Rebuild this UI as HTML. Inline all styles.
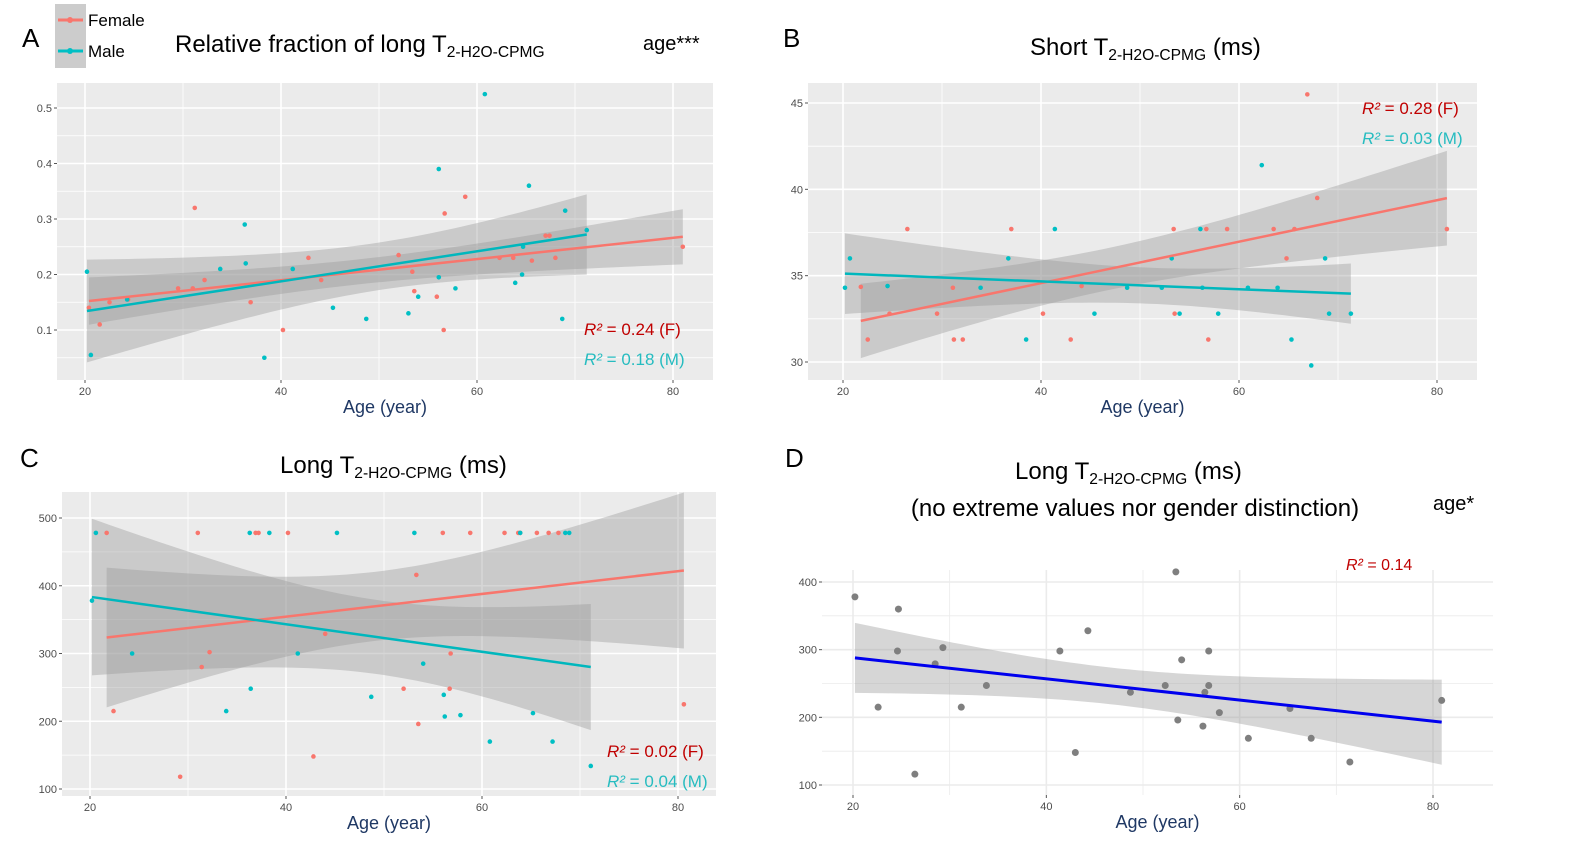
<!DOCTYPE html>
<html><head><meta charset="utf-8"><style>
html,body{margin:0;padding:0;background:#fff;}
svg{display:block;font-family:"Liberation Sans",sans-serif;}
</style></head><body>
<svg id="c" width="1579" height="846" viewBox="0 0 1579 846" xmlns="http://www.w3.org/2000/svg"></svg>
<script>
// ---- Data (age, value) ----
const aFemaleAge=[20.4,21.5,22.5,24.4,31.2,29.5,31,32.2,36.9,40.2,42.8,44.1,52,53.4,53.6,55.9,56.7,56.6,58.8,62.3,63.7,65.6,67,67.4,68,81];
const aFemaleVal=[0.14,0.11,0.15,0.155,0.32,0.175,0.175,0.19,0.15,0.10,0.23,0.19,0.235,0.205,0.17,0.16,0.31,0.10,0.34,0.23,0.23,0.225,0.27,0.27,0.23,0.25];
const aMaleAge=[20.2,20.6,24.3,33.8,36.3,36.4,38.3,41.2,45.3,48.7,53,54,56.1,56.1,57.8,60.8,63.9,65.3,64.6,64.7,69,68.7,71.2];
const aMaleVal=[0.205,0.055,0.155,0.21,0.29,0.22,0.05,0.21,0.14,0.12,0.13,0.16,0.39,0.195,0.175,0.525,0.185,0.36,0.20,0.25,0.315,0.12,0.28];
const bFemaleAge=[21.8,22.5,24.7,26.5,29.5,31.2,32.1,31.1,37,40.2,43,44.1,53.4,53.5,56.7,56.9,58.8,63.5,64.8,65.6,66.9,67.9,81];
const bFemaleVal=[34.35,31.3,32.8,37.7,32.8,31.3,31.3,34.3,37.7,32.8,31.3,34.4,37.7,32.8,37.7,31.3,37.7,37.7,36,37.7,45.5,39.5,37.7];
const bMaleAge=[20.2,20.7,24.5,33.9,36.7,38.5,41.4,45.4,48.7,52.2,53.2,54,56.1,56.3,57.9,60.9,62.3,63.9,65.3,67.3,68.7,69.1,71.3];
const bMaleVal=[34.3,36,34.4,34.3,36,31.3,37.7,32.8,34.3,34.3,36,32.8,37.7,34.3,32.8,34.3,41.4,34.3,31.3,29.8,36,32.8,32.8];
const cFemaleAge=[21.7,22.4,29.2,31,31.4,32.2,36.9,37.2,40.2,42.8,44,52,53.3,53.5,56,56.7,56.8,58.8,62.3,63.7,63.9,65.6,66.8,67.8,80.6];
const cFemaleVal=[478,215,118,478,280,302,478,478,478,148,329,248,416,196,478,248,300,478,478,478,478,478,478,478,225];
const cMaleAge=[20.2,20.6,24.3,33.9,36.3,36.4,38.3,41.2,45.2,48.7,53.1,54,56.1,56.2,57.8,60.8,63.9,65.2,67.2,68.5,68.9,71.1];
const cMaleVal=[378,478,300,215,478,248,478,300,478,236,478,285,239,207,209,170,478,212,170,478,478,134];
const dAge=[20.2,22.6,24.7,24.6,26.4,28.5,29.3,31.2,33.8,41.4,43,44.3,48.7,52.3,53.4,53.6,54,56.2,56.4,56.8,56.8,57.9,60.9,65.2,67.4,71.4,80.9];
const dVal=[378,215,360,298,116,279,303,215,247,298,148,328,237,247,415,196,285,187,237,298,247,207,169,213,169,134,225];
const xTicks=[20,40,60,80];
const aYTicks=[0.1,0.2,0.3,0.4,0.5];
const bYTicks=[30,35,40,45];
const cYTicks=[100,200,300,400,500];
const dYTicks=[100,200,300,400];

const svg=document.getElementById('c');
const NS='http://www.w3.org/2000/svg';
function mk(tag,attrs,parent,text){const e=document.createElementNS(NS,tag);for(const k in attrs)e.setAttribute(k,attrs[k]);if(text!==undefined)e.textContent=text;(parent||svg).appendChild(e);return e;}

function fit(xs,ys){const n=xs.length;const mx=xs.reduce((a,b)=>a+b)/n,my=ys.reduce((a,b)=>a+b)/n;let sxx=0,sxy=0;for(let i=0;i<n;i++){sxx+=(xs[i]-mx)**2;sxy+=(xs[i]-mx)*(ys[i]-my);}const b=sxy/sxx,a=my-b*mx;let sse=0;for(let i=0;i<n;i++)sse+=(ys[i]-a-b*xs[i])**2;const s=Math.sqrt(sse/(n-2));return {a,b,mx,sxx,s,n,min:Math.min(...xs),max:Math.max(...xs)};}

function panel(cfg){
  const g=mk('g',{},svg);
  
  
  const X=v=>cfg.x0+(v-cfg.xv0)/(cfg.xv1-cfg.xv0)*(cfg.x1-cfg.x0);
  const Y=v=>cfg.y0+(v-cfg.yv0)/(cfg.yv1-cfg.yv0)*(cfg.y1-cfg.y0);
  const bg=mk('rect',{x:cfg.L,y:cfg.T,width:cfg.R-cfg.L,height:cfg.B-cfg.T,fill:cfg.white?'#fff':'#ebebeb'},g);
  
  const gc=cfg.white?'#ebebeb':'#fff';
  // minor grid
  const yt=cfg.yTicks, st=yt[1]-yt[0];
  for(let i=0;i<=yt.length;i++){const v=yt[0]+(i-0.5)*st;const y=Y(v);if(y>cfg.T&&y<cfg.B)mk('line',{x1:cfg.L,x2:cfg.R,y1:y,y2:y,stroke:gc,'stroke-width':0.8},g);}
  for(let i=0;i<=xTicks.length;i++){const v=xTicks[0]+(i-0.5)*20;const x=X(v);if(x>cfg.L&&x<cfg.R)mk('line',{x1:x,x2:x,y1:cfg.T,y2:cfg.B,stroke:gc,'stroke-width':0.8},g);}
  yt.forEach(v=>{const y=Y(v);mk('line',{x1:cfg.L,x2:cfg.R,y1:y,y2:y,stroke:gc,'stroke-width':1.6},g);
    mk('line',{x1:cfg.L-3,x2:cfg.L,y1:y,y2:y,stroke:'#555','stroke-width':1},g);
    const t=mk('text',{x:cfg.L-5,y:y+4,'text-anchor':'end','font-size':11,fill:'#4d4d4d'},g,String(v));
    });
  xTicks.forEach(v=>{const x=X(v);mk('line',{x1:x,x2:x,y1:cfg.T,y2:cfg.B,stroke:gc,'stroke-width':1.6},g);
    mk('line',{x1:x,x2:x,y1:cfg.B,y2:cfg.B+3,stroke:'#555','stroke-width':1},g);
    const t=mk('text',{x:x,y:cfg.B+15,'text-anchor':'middle','font-size':11,fill:'#4d4d4d'},g,String(v));
    });
  // series
  cfg.series.forEach(s=>{
    const f=fit(s.xs,s.ys);const top=[],bot=[];
    for(let k=0;k<=60;k++){const x=f.min+(f.max-f.min)*k/60;const yh=f.a+f.b*x;const se=2.0*f.s*Math.sqrt(1/f.n+(x-f.mx)**2/f.sxx);top.push(X(x)+','+Y(yh+se));bot.unshift(X(x)+','+Y(yh-se));}
    const band=mk('polygon',{points:top.concat(bot).join(' '),fill:'#999','fill-opacity':0.4},g);
    
    s.fit=f;
  });
  cfg.series.forEach(s=>{
    s.xs.forEach((xv,i)=>{const p=mk('circle',{cx:X(xv),cy:Y(s.ys[i]),r:cfg.white?3.5:2.3,fill:s.color},g);
      });
  });
  cfg.series.forEach(s=>{const f=s.fit;
    const l=mk('line',{x1:X(f.min),y1:Y(f.a+f.b*f.min),x2:X(f.max),y2:Y(f.a+f.b*f.max),stroke:s.line,'stroke-width':cfg.white?3:2.5},g);
    });
  const at=mk('text',{x:(cfg.L+cfg.R)/2,y:cfg.B+33,'text-anchor':'middle','font-size':18,fill:'#1f3864'},g,'Age (year)');
  
}
const RED='#f8766d',CY='#00bfc4',GREY='#7f7f7f';
panel({name:'panel-a',L:57,R:713,T:83,B:380,x0:85,x1:673,xv0:20,xv1:80,y0:330,y1:108,yv0:0.1,yv1:0.5,yTicks:aYTicks,
  series:[{key:'female',xs:aFemaleAge,ys:aFemaleVal,color:RED,line:RED},{key:'male',xs:aMaleAge,ys:aMaleVal,color:CY,line:'#00b7bd'}]});
panel({name:'panel-b',L:808,R:1477,T:83,B:380,x0:843,x1:1437,xv0:20,xv1:80,y0:362,y1:103,yv0:30,yv1:45,yTicks:bYTicks,
  series:[{key:'female',xs:bFemaleAge,ys:bFemaleVal,color:RED,line:RED},{key:'male',xs:bMaleAge,ys:bMaleVal,color:CY,line:'#00b7bd'}]});
panel({name:'panel-c',L:62,R:716,T:492,B:796,x0:90,x1:678,xv0:20,xv1:80,y0:789,y1:518,yv0:100,yv1:500,yTicks:cYTicks,
  series:[{key:'female',xs:cFemaleAge,ys:cFemaleVal,color:RED,line:RED},{key:'male',xs:cMaleAge,ys:cMaleVal,color:CY,line:'#00b7bd'}]});
panel({name:'panel-d',white:true,L:822,R:1493,T:570,B:795,x0:853,x1:1433,xv0:20,xv1:80,y0:785,y1:582,yv0:100,yv1:400,yTicks:dYTicks,
  series:[{key:'all',xs:dAge,ys:dVal,color:GREY,line:'#0000ee'}]});

function txt(x,y,size,fill,name,parts,anchor){const t=mk('text',{x:x,y:y,'font-size':size,fill:fill,'text-anchor':anchor||'start'});
  
  parts.forEach(p=>{const ts=mk('tspan',p.sub?{'font-size':size*0.65,dy:5}:(p.up?{dy:-5}:{}),t,p.t);if(p.it)ts.setAttribute('font-style','italic');});return t;}
txt(22,47,26,'#000','panel-label-a',[{t:'A'}]);
txt(783,47,26,'#000','panel-label-b',[{t:'B'}]);
txt(20,467,26,'#000','panel-label-c',[{t:'C'}]);
txt(785,467,26,'#000','panel-label-d',[{t:'D'}]);
txt(175,52,24,'#000','title-a',[{t:'Relative fraction of long T'},{t:'2-H2O-CPMG',sub:true}]);
txt(643,50,20,'#000','age-significance-a',[{t:'age***'}]);
txt(1030,55,24,'#000','title-b',[{t:'Short T'},{t:'2-H2O-CPMG',sub:true},{t:' (ms)',up:true}]);
txt(280,473,24,'#000','title-c',[{t:'Long T'},{t:'2-H2O-CPMG',sub:true},{t:' (ms)',up:true}]);
txt(1015,479,24,'#000','title-d',[{t:'Long T'},{t:'2-H2O-CPMG',sub:true},{t:' (ms)',up:true}]);
txt(1135,516,24,'#000','subtitle-d',[{t:'(no extreme values nor gender distinction)'}],'middle');
txt(1433,510,20,'#000','age-significance-d',[{t:'age*'}]);
const DR='#c00000',DC='#26bcc0';
txt(584,335,17,DR,'r2-female-a',[{t:'R²',it:true},{t:' = 0.24 (F)'}]);
txt(584,365,17,DC,'r2-male-a',[{t:'R²',it:true},{t:' = 0.18 (M)'}]);
txt(1362,114,17,DR,'r2-female-b',[{t:'R²',it:true},{t:' = 0.28 (F)'}]);
txt(1362,144,17,DC,'r2-male-b',[{t:'R²',it:true},{t:' = 0.03 (M)'}]);
txt(607,757,17,DR,'r2-female-c',[{t:'R²',it:true},{t:' = 0.02 (F)'}]);
txt(607,787,17,DC,'r2-male-c',[{t:'R²',it:true},{t:' = 0.04 (M)'}]);
txt(1346,570,16,DR,'r2-d',[{t:'R²',it:true},{t:' = 0.14'}]);
// legend
const lg=mk('g',{});
mk('rect',{x:55,y:4,width:31,height:64,fill:'#cccccc'},lg);
[['Female',RED,20],['Male',CY,51]].forEach(([n,c,y])=>{
  const e=mk('g',{},lg);
  mk('line',{x1:58,x2:83,y1:y,y2:y,stroke:c,'stroke-width':3},e);
  mk('circle',{cx:70,cy:y,r:3,fill:c},e);
  mk('text',{x:88,y:y+6,'font-size':17,fill:'#000'},e,n);
});
</script>
</body></html>
